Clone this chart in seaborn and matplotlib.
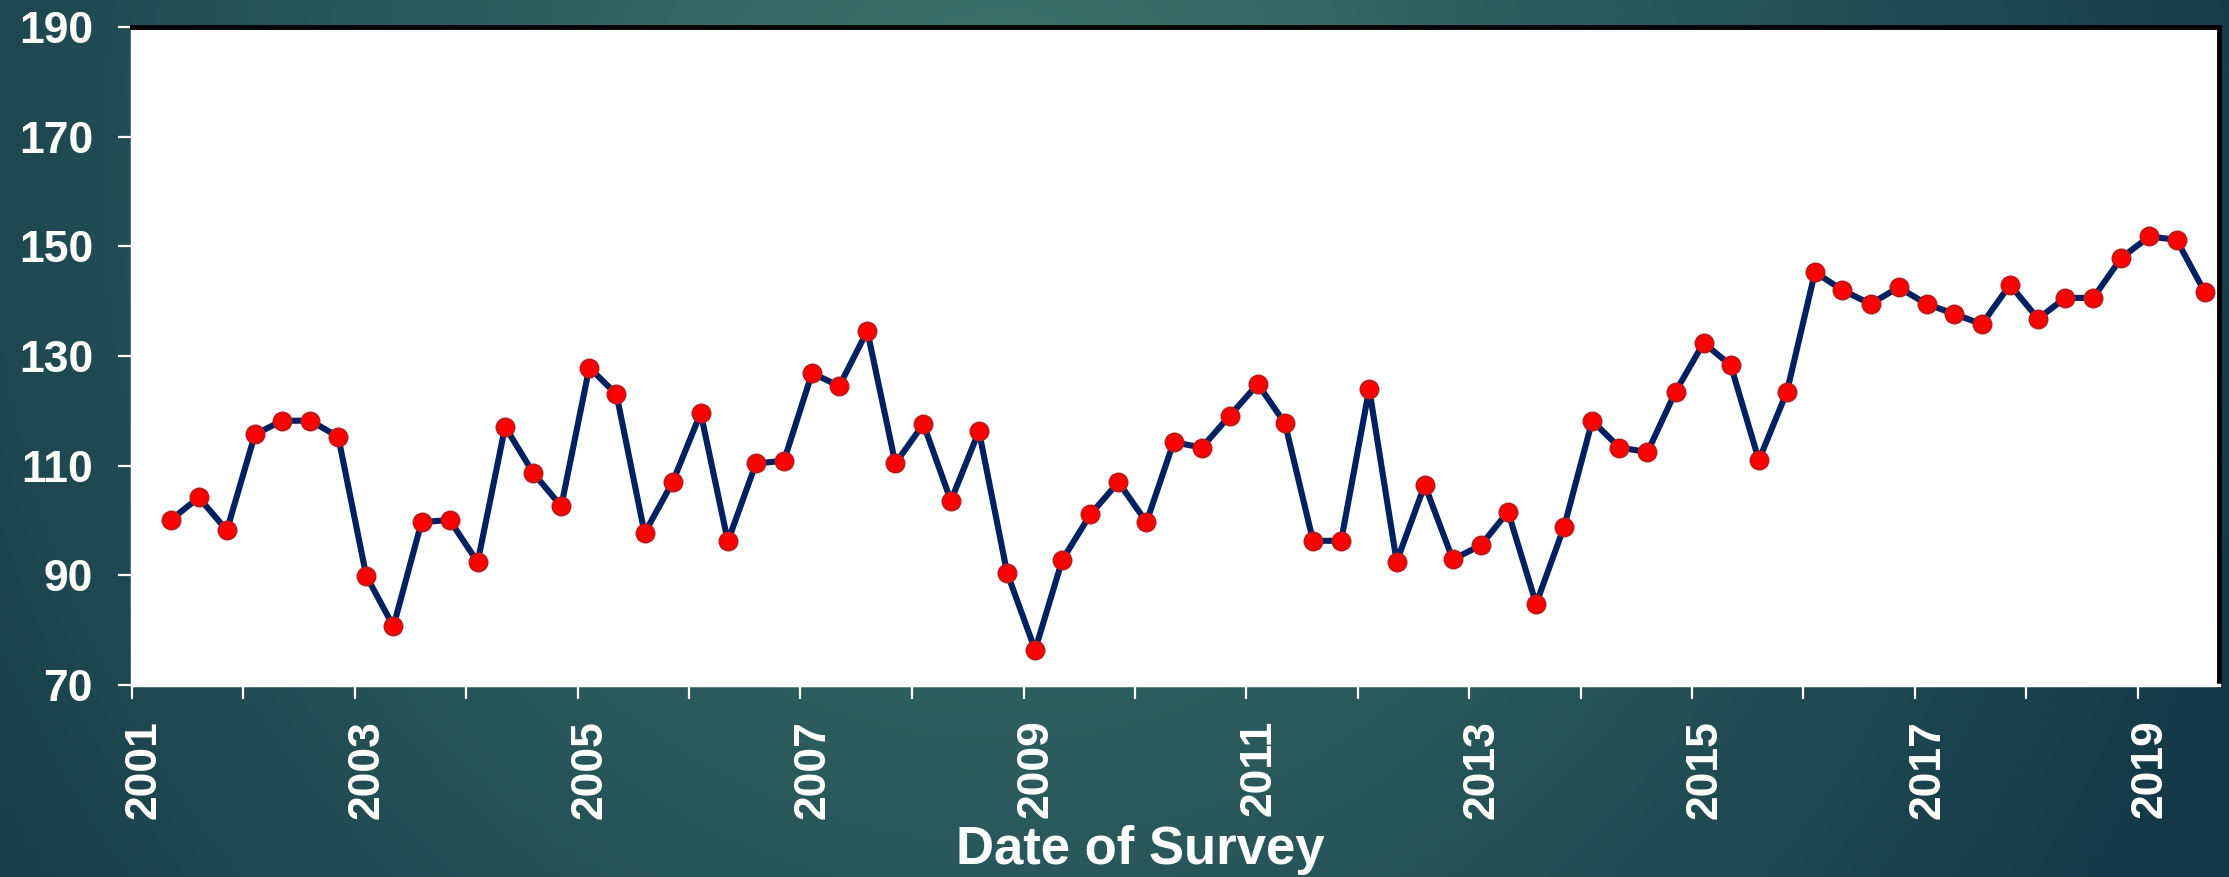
import matplotlib
matplotlib.use('Agg')
import matplotlib.pyplot as plt
import matplotlib.transforms as mtransforms
import numpy as np
import pandas as pd
import seaborn as sns

# Survey values (one per quarter, May 2001 .. Aug 2019).
values = [
    100.1, 104.2, 98.2, 115.7, 118.2, 118.2, 115.3, 89.9, 80.7, 99.7,
    100.1, 92.4, 117.1, 108.7, 102.6, 127.9, 123.0, 97.7, 107.0, 119.6,
    96.2, 110.4, 110.9, 126.9, 124.5, 134.6, 110.4, 117.6, 103.6, 116.3,
    90.5, 76.4, 92.8, 101.1, 107.0, 99.7, 114.3, 113.3, 119.1, 124.9,
    117.7, 96.3, 96.3, 124.0, 92.5, 106.5, 92.9, 95.5, 101.6, 84.8,
    98.9, 118.2, 113.3, 112.5, 123.5, 132.4, 128.3, 111.0, 123.5, 145.3,
    142.0, 139.5, 142.5, 139.5, 137.7, 135.8, 143.0, 136.8, 140.6, 140.6,
    147.9, 151.8, 151.2, 141.7,
]
survey_dates = pd.date_range('2001-05-08', periods=len(values), freq=pd.DateOffset(months=3))
tick_years = list(range(2001, 2020))
y_ticks = [70, 90, 110, 130, 150, 170, 190]

df = pd.DataFrame({'date': survey_dates, 'value': values})

plt.rcParams['font.family'] = ['Liberation Sans', 'DejaVu Sans']
plt.rcParams['font.weight'] = 'bold'

fig = plt.figure(figsize=(22.29, 8.77), dpi=100)

# Teal gradient background.
bg = fig.add_axes([0, 0, 1, 1], zorder=-1)
bg.axis('off')
yy, xx = np.mgrid[0:1:300j, 0:1:600j]
d = np.clip(np.sqrt(((xx - 0.45) / 0.6) ** 2 + ((yy - 0.2) / 1.6) ** 2), 0, 1)
light = np.array([62, 118, 110]) / 255
dark = np.array([20, 56, 70]) / 255
img = light[None, None, :] * (1 - d[..., None]) + dark[None, None, :] * d[..., None]
bg.imshow(img, aspect='auto', extent=[0, 1, 0, 1], origin='upper')

ax = fig.add_axes([0.0592, 0.2189, 0.9363, 0.7503])
ax.set_facecolor('white')

sns.lineplot(data=df, x='date', y='value', ax=ax, color='#002060', lw=4.4,
             marker='o', markersize=13, markerfacecolor='#ff0000',
             markeredgecolor='#c01818', markeredgewidth=1.4)

ax.set_xlim(pd.Timestamp('2001-01-01'), pd.Timestamp('2019-09-24'))
ax.set_ylim(70, 190)

ax.set_yticks(y_ticks)
ax.set_yticklabels([str(v) for v in y_ticks])
ax.set_xticks([pd.Timestamp(f'{y}-01-01') for y in tick_years])
ax.set_xticklabels([str(y) if y % 2 == 1 else '' for y in tick_years], rotation=90)

ax.tick_params(axis='both', colors='white', length=10, width=1.6, labelsize=32)
ax.tick_params(axis='y', pad=18)
ax.tick_params(axis='x', pad=15)
shift = mtransforms.ScaledTranslation(9 / 72, 0, fig.dpi_scale_trans)
for lab in ax.get_xticklabels():
    lab.set_transform(lab.get_transform() + shift)

for side in ['top', 'right']:
    ax.spines[side].set_color('black')
    ax.spines[side].set_linewidth(3.5)
for side in ['left', 'bottom']:
    ax.spines[side].set_color('white')
    ax.spines[side].set_linewidth(2.5)

ax.set_ylabel('')
ax.set_xlabel('Date of Survey', color='white', fontsize=38, fontweight='bold')
ax.xaxis.set_label_coords(0.483, -0.212)

fig.savefig('out.png', dpi=100)
